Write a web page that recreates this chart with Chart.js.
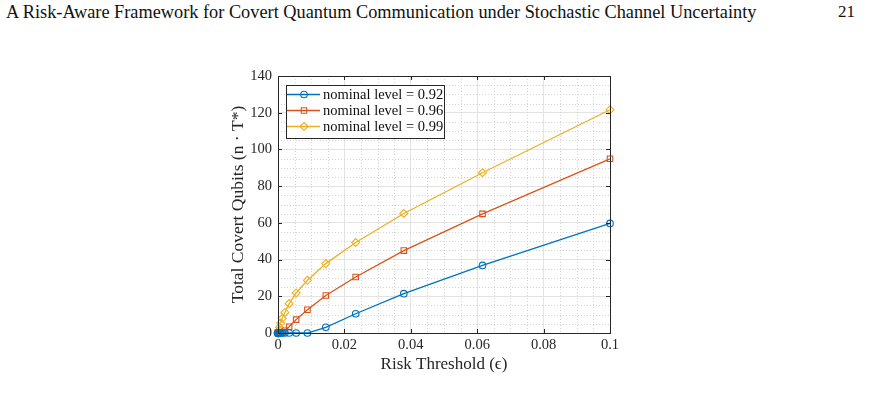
<!DOCTYPE html>
<html>
<head>
<meta charset="utf-8">
<script src="https://cdn.jsdelivr.net/npm/chart.js@4"></script>
<style>
  body { margin: 0; background: #fff; width: 870px; height: 402px; overflow: hidden; position: relative; }
  #header { position: absolute; left: 6px; top: 2px; font-family: "Liberation Serif", serif; font-size: 17px; color: #111; white-space: nowrap; }
  #page { position: absolute; left: 838px; top: 2px; font-family: "Liberation Serif", serif; font-size: 17px; color: #111; }
  #wrap { position: absolute; left: 220px; top: 60px; width: 410px; height: 320px; }
</style>
</head>
<body>
<div id="header">A Risk-Aware Framework for Covert Quantum Communication under Stochastic Channel Uncertainty</div>
<div id="page">21</div>
<div id="wrap"><canvas id="plot"></canvas></div>
<script>
// risk threshold values (x)
const riskThreshold = [0.00001, 0.000016, 0.000026, 0.000043, 0.00007, 0.000113, 0.000183, 0.000298, 0.000483, 0.000785, 0.00127, 0.00207, 0.00336, 0.00546, 0.00886, 0.0144, 0.0234, 0.0379, 0.0616, 0.1];
const level092 = [0, 0, 0, 0, 0, 0, 0, 0, 0, 0, 0, 0, 0, 0, 0, 3.1, 10.5, 21.4, 36.8, 59.7];
const level096 = [0, 0, 0, 0, 0, 0, 0, 0, 0, 0, 0.2, 1.2, 3.4, 7.3, 12.7, 20.4, 30.5, 44.9, 64.9, 94.9];
const level099 = [0, 0, 0, 0, 0, 0.2, 0.7, 1.6, 3.2, 5.4, 8.0, 11.2, 16.0, 21.8, 28.7, 37.8, 49.3, 65.1, 87.3, 121.6];
const seriesLabels = ["nominal level = 0.92", "nominal level = 0.96", "nominal level = 0.99"];
const seriesColors = ["#0072BD", "#D95319", "#EDB120"];
const xTicks = [0, 0.02, 0.04, 0.06, 0.08, 0.1];
const yTicks = [0, 20, 40, 60, 80, 100, 120, 140];

// fit the running header to its width in the page
const hdr = document.getElementById("header");
hdr.style.fontSize = (17 * 751 / hdr.getBoundingClientRect().width) + "px";

const serif = "'Liberation Serif', 'Times New Roman', serif";
const axisColor = "#262626";

const toPts = (ys) => ys.map((y, i) => ({ x: riskThreshold[i], y: y }));

// minor dotted grid, inward ticks, top/right box, boxed legend
const framePlugin = {
  id: "frame",
  beforeDatasetsDraw(chart) {
    const { ctx, chartArea: a, scales: { x, y } } = chart;
    ctx.save();
    ctx.strokeStyle = "#d4d4d4";
    ctx.lineWidth = 1;
    ctx.setLineDash([1, 2]);
    for (let v = 0.005; v < 0.1; v += 0.005) {
      if (Math.abs(v / 0.02 - Math.round(v / 0.02)) < 1e-6) continue;
      const px = Math.round(x.getPixelForValue(v)) + 0.5;
      ctx.beginPath(); ctx.moveTo(px, a.top); ctx.lineTo(px, a.bottom); ctx.stroke();
    }
    for (let v = 5; v < 140; v += 5) {
      if (v % 20 === 0) continue;
      const py = Math.round(y.getPixelForValue(v)) + 0.5;
      ctx.beginPath(); ctx.moveTo(a.left, py); ctx.lineTo(a.right, py); ctx.stroke();
    }
    ctx.restore();
  },
  afterDatasetsDraw(chart) {
    const { ctx, chartArea: a, scales: { x, y } } = chart;
    ctx.save();
    ctx.strokeStyle = axisColor;
    ctx.lineWidth = 1;
    const t = 4;
    xTicks.forEach((v) => {
      const px = Math.round(x.getPixelForValue(v)) + 0.5;
      ctx.beginPath();
      ctx.moveTo(px, a.bottom); ctx.lineTo(px, a.bottom - t);
      ctx.moveTo(px, a.top); ctx.lineTo(px, a.top + t);
      ctx.stroke();
    });
    yTicks.forEach((v) => {
      const py = Math.round(y.getPixelForValue(v)) + 0.5;
      ctx.beginPath();
      ctx.moveTo(a.left, py); ctx.lineTo(a.left + t, py);
      ctx.moveTo(a.right, py); ctx.lineTo(a.right - t, py);
      ctx.stroke();
    });
    ctx.strokeRect(Math.round(a.left) + 0.5, Math.round(a.top) + 0.5, Math.round(a.right - a.left), Math.round(a.bottom - a.top));

    // legend box
    const lx = a.left + 8, ly = a.top + 9, lw = 158, lh = 53;
    ctx.fillStyle = "#fff";
    ctx.fillRect(lx, ly, lw, lh);
    ctx.strokeStyle = axisColor;
    ctx.strokeRect(Math.round(lx) + 0.5, Math.round(ly) + 0.5, lw, lh);
    ctx.font = "14.5px " + serif;
    ctx.textBaseline = "middle";
    chart.data.datasets.forEach((ds, i) => {
      const ry = Math.round(ly + 9 + i * 16) + 0.5;
      ctx.strokeStyle = ds.borderColor;
      ctx.lineWidth = ds.borderWidth;
      ctx.beginPath(); ctx.moveTo(lx + 1, ry); ctx.lineTo(lx + 34, ry); ctx.stroke();
      ctx.lineWidth = ds.pointBorderWidth;
      ctx.fillStyle = "rgba(0,0,0,0)";
      Chart.helpers.drawPoint(ctx, { pointStyle: ds.pointStyle, radius: ds.pointRadius, rotation: 0, borderWidth: ds.pointBorderWidth }, lx + 18, ry);
      ctx.fillStyle = "#111";
      ctx.fillText(ds.label, lx + 37, ry + 0.5);
    });
    ctx.restore();
  }
};

const styles = ["circle", "rect", "rectRot"];
const radii = [3.3, 3.9, 4];
const datasets = [level092, level096, level099].map((ys, i) => ({
  label: seriesLabels[i],
  data: toPts(ys),
  borderColor: seriesColors[i],
  backgroundColor: "transparent",
  borderWidth: 1.3,
  pointStyle: styles[i],
  pointRadius: radii[i],
  pointBorderWidth: 1.1,
  pointBackgroundColor: "transparent",
  pointBorderColor: seriesColors[i],
  tension: 0,
  clip: false,
}));

new Chart(document.getElementById("plot"), {
  type: "line",
  data: { datasets: datasets },
  options: {
    responsive: true,
    maintainAspectRatio: false,
    animation: false,
    events: [],
    layout: { padding: { top: 16, right: 20, left: 0, bottom: 0 } },
    plugins: { legend: { display: false }, tooltip: { enabled: false } },
    scales: {
      x: {
        type: "linear",
        min: 0,
        max: 0.1,
        afterBuildTicks: (s) => { s.ticks = xTicks.map((v) => ({ value: v })); },
        afterFit: (s) => { s.height = 47; },
        ticks: {
          color: "#262626",
          font: { family: serif, size: 14.5 },
          padding: 3,
          maxRotation: 0,
          callback: (v) => String(Number(v.toFixed(3))),
        },
        grid: { color: "#e3e3e3", drawTicks: false, lineWidth: 1 },
        border: { display: false },
        title: {
          display: true,
          text: "Risk Threshold (\u03F5)",
          color: "#262626",
          font: { family: serif, size: 17 },
          padding: { top: 0, bottom: 5 },
        },
      },
      y: {
        type: "linear",
        min: 0,
        max: 140,
        afterBuildTicks: (s) => { s.ticks = yTicks.map((v) => ({ value: v })); },
        afterFit: (s) => { s.width = 58; },
        ticks: {
          color: "#262626",
          font: { family: serif, size: 14.5 },
          padding: 6,
        },
        grid: { color: "#e3e3e3", drawTicks: false, lineWidth: 1 },
        border: { display: false },
        title: {
          display: true,
          text: "Total Covert Qubits (n \u00B7 T*)",
          color: "#262626",
          font: { family: serif, size: 17.5 },
          padding: { top: 8, bottom: 0 },
        },
      },
    },
  },
  plugins: [framePlugin],
});
</script>
</body>
</html>
